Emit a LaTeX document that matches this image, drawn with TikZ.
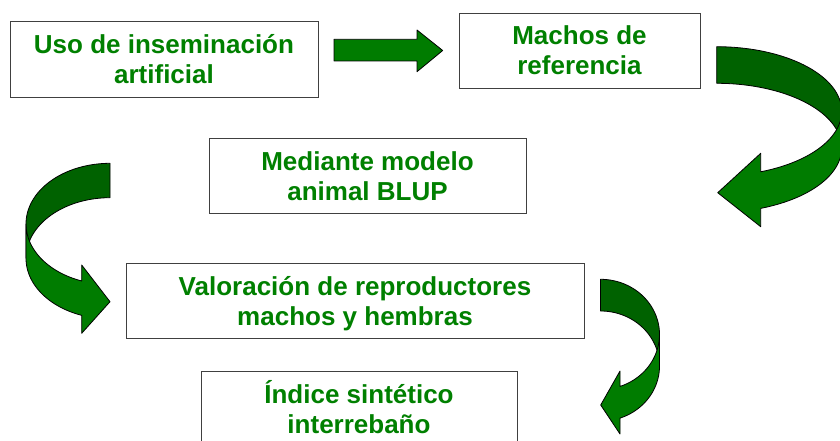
\documentclass[tikz,border=0pt]{standalone}
\usepackage{fontspec}
\setmainfont{Liberation Sans}
\definecolor{txtgreen}{RGB}{0,128,0}
\definecolor{arrlight}{RGB}{0,124,0}
\definecolor{arrdark}{RGB}{0,98,0}
\newcommand\twolines[2]{\raisebox{0pt}[19pt][30pt]{\begin{tabular}[t]{@{}c@{}}#1\\#2\end{tabular}}}
\begin{document}
\begin{tikzpicture}[x=1pt,y=-1pt,
  box/.style={draw=black!75, line width=0.9pt, fill=white, inner sep=0pt,
    font=\fontsize{26}{30}\selectfont\bfseries, text=txtgreen},
  arrowline/.style={draw=black, line width=0.8pt, line join=round}]
\useasboundingbox (0,0) rectangle (840,441);
% boxes
\node[box, minimum width=308pt, minimum height=76pt] (uso) at (164,59) {\twolines{Uso de inseminación}{artificial}};
\node[box, minimum width=241pt, minimum height=75pt] (machos) at (579.5,50.5) {\twolines{Machos de}{referencia}};
\node[box, minimum width=317pt, minimum height=75pt] (blup) at (367.5,175.5) {\twolines{Mediante modelo}{animal BLUP}};
\node[box, minimum width=458pt, minimum height=75pt] (valor) at (355,300.5) {\twolines{Valoración de reproductores}{machos y hembras}};
\node[box, minimum width=316pt, minimum height=75pt] (indice) at (359,408.5) {\twolines{Índice sintético}{interrebaño}};
% straight block arrow
\draw[arrowline, fill=arrlight] (334,39.3) -- (417,39.3) -- (417,30) -- (442.7,50.5) -- (417,71.7) -- (417,61) -- (334,61) -- cycle;
% curved arrow A (right, from Machos to BLUP)
\draw[arrowline, fill=arrdark] plot[domain=-90:0, samples=50] ({716.7+125*cos(\x)}, {111.3+64.6*sin(\x)})
  -- plot[domain=0:-90, samples=50] ({716.7+125*cos(\x)}, {147.9+64.6*sin(\x)}) -- cycle;
\draw[arrowline, fill=arrlight] plot[domain=0:69.4, samples=50] ({716.7+125*cos(\x)}, {111.3+64.6*sin(\x)})
  -- (760.7,153.3) -- (717.7,192.7) -- (760.7,226.7)
  -- plot[domain=69.4:0, samples=50] ({716.7+125*cos(\x)}, {147.9+64.6*sin(\x)}) -- cycle;
% curved arrow B (left, from BLUP to Valoracion)
\draw[arrowline, fill=arrdark] plot[domain=-90:-180, samples=50] ({110+84*cos(\x)}, {223.9+60.6*sin(\x)})
  -- plot[domain=-180:-90, samples=50] ({110+84*cos(\x)}, {258.3+60.6*sin(\x)}) -- cycle;
\draw[arrowline, fill=arrlight] plot[domain=180:109.7, samples=50] ({110+84*cos(\x)}, {223.9+60.6*sin(\x)})
  -- (81.7,265) -- (110,301.7) -- (81.7,333.3)
  -- plot[domain=109.7:180, samples=50] ({110+84*cos(\x)}, {258.3+60.6*sin(\x)}) -- cycle;
% curved arrow C (right, from Valoracion to Indice)
\draw[arrowline, fill=arrdark] plot[domain=-90:0, samples=50] ({600.5+59*cos(\x)}, {334.4+55.1*sin(\x)})
  -- plot[domain=0:-90, samples=50] ({600.5+59*cos(\x)}, {366.1+55.1*sin(\x)}) -- cycle;
\draw[arrowline, fill=arrlight] plot[domain=0:70.7, samples=50] ({600.5+59*cos(\x)}, {334.4+55.1*sin(\x)})
  -- (620,371) -- (600.7,405) -- (620,434)
  -- plot[domain=70.7:0, samples=50] ({600.5+59*cos(\x)}, {366.1+55.1*sin(\x)}) -- cycle;
\end{tikzpicture}
\end{document}
